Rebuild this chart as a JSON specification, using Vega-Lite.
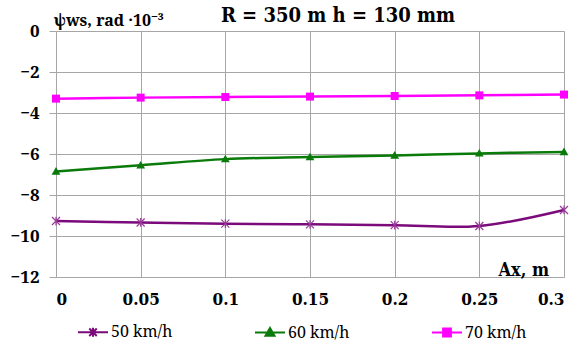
{
  "$schema": "https://vega.github.io/schema/vega-lite/v6.json",
  "width": 508,
  "height": 246,
  "autosize": {"type": "none"},
  "padding": {"left": 56, "top": 31, "right": 15, "bottom": 67},
  "background": "white",
  "config": {
    "view": {"stroke": null}
  },
  "title": {
    "text": "R = 350 m  h = 130 mm",
    "font": "DejaVu Serif Condensed",
    "fontSize": 20,
    "fontWeight": "bold",
    "color": "black",
    "baseline": "alphabetic",
    "offset": -30,
    "dx": 28
  },
  "data": {
    "values": [
      {"x": 0, "y": -9.27, "series": "50 km/h"},
      {"x": 0.05, "y": -9.34, "series": "50 km/h"},
      {"x": 0.1, "y": -9.4, "series": "50 km/h"},
      {"x": 0.15, "y": -9.43, "series": "50 km/h"},
      {"x": 0.2, "y": -9.47, "series": "50 km/h"},
      {"x": 0.25, "y": -9.51, "series": "50 km/h"},
      {"x": 0.3, "y": -8.73, "series": "50 km/h"},
      {"x": 0, "y": -6.85, "series": "60 km/h"},
      {"x": 0.05, "y": -6.55, "series": "60 km/h"},
      {"x": 0.1, "y": -6.25, "series": "60 km/h"},
      {"x": 0.15, "y": -6.15, "series": "60 km/h"},
      {"x": 0.2, "y": -6.07, "series": "60 km/h"},
      {"x": 0.25, "y": -5.97, "series": "60 km/h"},
      {"x": 0.3, "y": -5.9, "series": "60 km/h"},
      {"x": 0, "y": -3.3, "series": "70 km/h"},
      {"x": 0.05, "y": -3.25, "series": "70 km/h"},
      {"x": 0.1, "y": -3.22, "series": "70 km/h"},
      {"x": 0.15, "y": -3.2, "series": "70 km/h"},
      {"x": 0.2, "y": -3.17, "series": "70 km/h"},
      {"x": 0.25, "y": -3.14, "series": "70 km/h"},
      {"x": 0.3, "y": -3.1, "series": "70 km/h"}
    ]
  },
  "encoding": {
    "x": {
      "field": "x",
      "type": "quantitative",
      "scale": {"domain": [0, 0.3], "nice": false, "zero": false},
      "axis": {
        "values": [0, 0.05, 0.1, 0.15, 0.2, 0.25, 0.3],
        "format": "~g",
        "title": "Ax, m",
        "titleFont": "DejaVu Serif Condensed",
        "titleFontSize": 18,
        "titleFontWeight": "bold",
        "titleColor": "black",
        "titleAnchor": "start",
        "titleAlign": "left",
        "titleBaseline": "alphabetic",
        "titleX": 442,
        "titleY": -2,
        "labelFont": "DejaVu Serif Condensed",
        "labelFontSize": 17,
        "labelFontWeight": "bold",
        "labelColor": "black",
        "labelPadding": 14,
        "ticks": false,
        "domain": false,
        "grid": true,
        "gridColor": "#a6a6a6",
        "gridWidth": 1
      }
    },
    "y": {
      "field": "y",
      "type": "quantitative",
      "scale": {"domain": [-12, 0], "nice": false},
      "axis": {
        "values": [-12, -10, -8, -6, -4, -2, 0],
        "title": "ψws, rad ·10⁻³",
        "titleFont": "Noto Serif",
        "titleFontSize": 16,
        "titleFontWeight": "bold",
        "titleColor": "black",
        "titleAngle": 0,
        "titleAlign": "left",
        "titleBaseline": "alphabetic",
        "titleX": -3,
        "titleY": -6,
        "labelFont": "Noto Serif",
        "labelFontSize": 17,
        "labelFontWeight": "bold",
        "labelColor": "black",
        "labelPadding": 10,
        "tickSize": 7,
        "tickColor": "#a6a6a6",
        "domain": false,
        "grid": true,
        "gridColor": "#a6a6a6",
        "gridWidth": 1
      }
    }
  },
  "layer": [
    {
      "mark": {"type": "line", "interpolate": "catmull-rom", "strokeWidth": 2.5},
      "encoding": {
        "color": {
          "field": "series",
          "type": "nominal",
          "scale": {"domain": ["50 km/h", "60 km/h", "70 km/h"], "range": ["#7b0a7b", "#0a7a0a", "#ff00ff"]},
          "legend": {
            "title": null,
            "orient": "none",
            "legendX": 21,
            "legendY": 285,
            "direction": "horizontal",
            "columns": 3,
            "columnPadding": 78,
            "symbolSize": 900,
            "symbolStrokeWidth": 2,
            "labelFont": "Noto Serif",
            "labelFontSize": 16,
            "labelColor": "black",
            "labelOffset": 2,
            "labelLimit": 200,
            "encode": {
              "symbols": {
                "update": {
                  "shape": {"signal": "datum.value === '50 km/h' ? 'M-1,0H1M-0.25,-0.25L0.25,0.25M-0.25,0.25L0.25,-0.25M0,-0.3V0.3' : datum.value === '60 km/h' ? 'M-1,0H1M0,-0.3L0.3,0.22H-0.3Z' : 'M-1,0H1M-0.26,-0.26H0.26V0.26H-0.26Z'"},
                  "fill": {"scale": "color", "field": "value"},
                  "stroke": {"scale": "color", "field": "value"},
                  "fillOpacity": {"value": 1},
                  "strokeWidth": {"value": 2}
                }
              }
            }
          }
        }
      }
    },
    {
      "transform": [{"filter": "datum.series === '50 km/h'"}],
      "mark": {"type": "point", "shape": "M-1,-1L1,1M-1,1L1,-1M0,-1.1V1.1", "filled": false, "size": 64, "strokeWidth": 1.2, "color": "#9a3a9a", "opacity": 1}
    },
    {
      "transform": [{"filter": "datum.series === '60 km/h'"}],
      "mark": {"type": "point", "shape": "M0,-1.1L1.1,0.8H-1.1Z", "filled": true, "size": 64, "color": "#0a7a0a", "opacity": 1}
    },
    {
      "transform": [{"filter": "datum.series === '70 km/h'"}],
      "mark": {"type": "point", "shape": "M-1,-1H1V1H-1Z", "filled": true, "size": 64, "color": "#ff00ff", "opacity": 1}
    }
  ]
}
